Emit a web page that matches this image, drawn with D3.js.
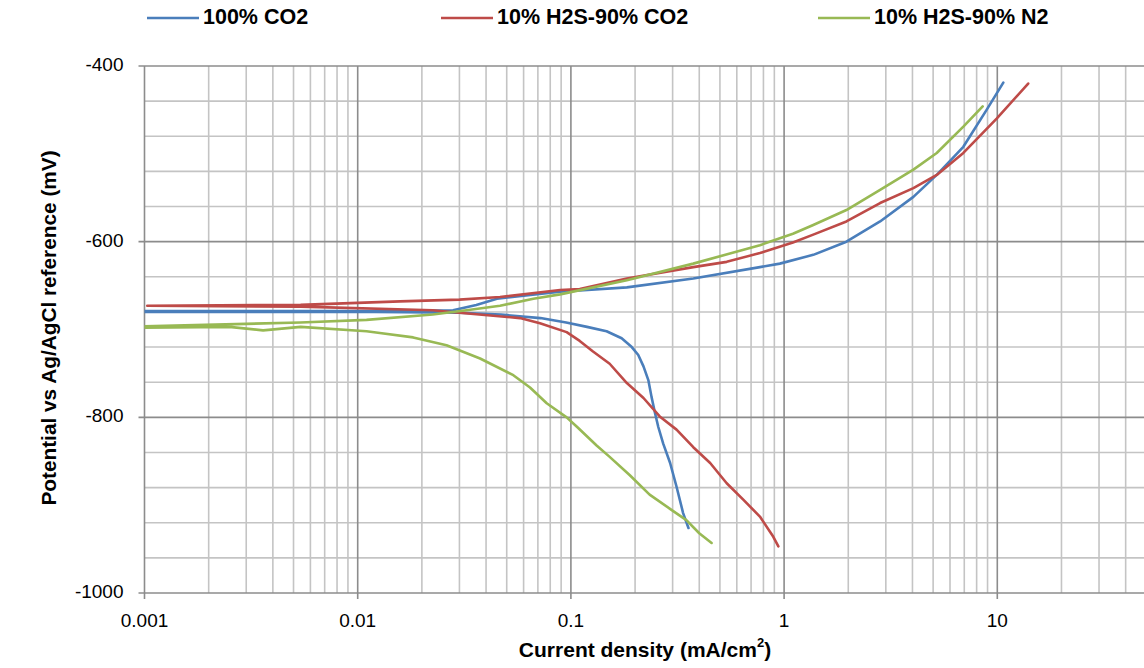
<!DOCTYPE html>
<html>
<head>
<meta charset="utf-8">
<script src="https://d3js.org/d3.v7.min.js"></script>
<style>
  body { margin: 0; background: #fff; }
  text { font-family: "Liberation Sans", Arial, sans-serif; }
</style>
</head>
<body>
<div id="canvas"></div>
<script>
"use strict"

/* Data: current density (mA/cm2) and potential (mV),
   in sweep order, cathodic end -> Ecorr -> anodic end */
let co2Current = [0.356, 0.336, 0.313, 0.292, 0.271, 0.257, 0.248, 0.239, 0.231, 0.219,
                  0.207, 0.193, 0.173, 0.147, 0.119, 0.095, 0.072, 0.047, 0.030, 0.012,
                  0.005, 0.0008,
                  0.0008, 0.005, 0.015, 0.028, 0.036, 0.045, 0.06, 0.089, 0.183, 0.375,
                  0.77, 0.955, 1.37, 1.96, 2.82, 4.04, 5.2, 6.93, 8.91, 10.67];
let co2Potential = [-926, -909, -879, -852, -830, -811, -795, -777, -758, -742,
                    -729, -720, -710, -702, -697, -692, -687, -683, -681, -680,
                    -680, -680,
                    -679, -679, -679, -678, -672, -665, -661.5, -657, -652, -642,
                    -629, -625, -615, -600, -577, -549, -524, -492, -450, -419];

let h2sCo2Current = [0.94, 0.89, 0.77, 0.645, 0.538, 0.45, 0.375, 0.313, 0.261, 0.219,
                     0.183, 0.152, 0.127, 0.11, 0.0955, 0.0716, 0.0577, 0.030, 0.0225,
                     0.0054, 0.00103,
                     0.00103, 0.0054, 0.0158, 0.030, 0.0465, 0.089, 0.11, 0.183, 0.375, 0.538,
                     0.77, 1.10, 1.37, 1.96, 2.82, 4.04, 5.2, 6.93, 9.93, 13.96];
let h2sCo2Potential = [-947, -936, -913, -894, -875, -852, -834, -814, -799, -778,
                       -761, -739, -725, -713, -703, -693, -687, -681, -678,
                       -674, -673,
                       -673, -672, -668, -666, -663, -655, -654, -642, -629, -623,
                       -613, -601, -592, -577, -556, -539, -524, -499, -460, -420];

let h2sN2Current = [0.457, 0.40, 0.348, 0.295, 0.234, 0.189, 0.152, 0.132, 0.107, 0.0955,
                    0.077, 0.0643, 0.0537, 0.0375, 0.0261, 0.0182, 0.0127, 0.011, 0.0054, 0.0036,
                    0.0025, 0.0008,
                    0.0008, 0.0054, 0.011, 0.0225, 0.0324, 0.0465, 0.0667, 0.089, 0.183, 0.375,
                    0.77, 1.10, 1.37, 1.96, 2.82, 4.04, 5.2, 6.93, 8.54];
let h2sN2Potential = [-943, -932, -917, -905, -888, -866, -845, -832, -811, -800,
                      -784, -766, -752, -733, -718, -709, -704, -702, -697, -701,
                      -697, -698,
                      -697, -692, -689, -683, -678, -673, -665, -660, -644, -625,
                      -604, -591, -581, -564, -541, -518, -499, -469, -446];

let seriesNames = ["100% CO2", "10% H2S-90% CO2", "10% H2S-90% N2"];
let seriesColors = ["#4a7ebb", "#be4b48", "#98b954"];

let xTicks = [0.001, 0.01, 0.1, 1, 10, 100];
let yTicks = [-400, -600, -800, -1000];

/* Drawing configuration */
let svgWidth = 1144;
let svgHeight = 668;
let plotLeft = 144.5;
let plotTop = 66;
let plotBottom = 593;
let decade = 213.2;

let svg = d3.select("#canvas")
    .append("svg")
    .attr("width", svgWidth)
    .attr("height", svgHeight);

let xScale = d3.scaleLog()
    .domain([0.001, 100])
    .range([plotLeft, plotLeft + decade * 5]);

let yScale = d3.scaleLinear()
    .domain([-1000, -400])
    .range([plotBottom, plotTop]);

/* Gridlines: minor every 40 mV and at 2..9 of each decade */
let minorY = d3.range(-1000, -399, 40).filter(v => yTicks.indexOf(v) < 0);
let minorX = [];
for (let d = 0.001; d < 100; d *= 10) {
  for (let k = 2; k <= 9; k++) minorX.push(d * k);
}

svg.selectAll(".minorY")
    .data(minorY)
    .join("line")
    .attr("x1", plotLeft)
    .attr("x2", svgWidth)
    .attr("y1", d => yScale(d))
    .attr("y2", d => yScale(d))
    .attr("stroke", "#c4c4c4")
    .attr("stroke-width", 1.6);

svg.selectAll(".minorX")
    .data(minorX)
    .join("line")
    .attr("x1", d => xScale(d))
    .attr("x2", d => xScale(d))
    .attr("y1", plotTop)
    .attr("y2", plotBottom)
    .attr("stroke", "#c4c4c4")
    .attr("stroke-width", 1.6);

/* Major gridlines with small outside ticks */
svg.selectAll(".majorY")
    .data(yTicks)
    .join("line")
    .attr("x1", plotLeft - 6)
    .attr("x2", svgWidth)
    .attr("y1", d => yScale(d))
    .attr("y2", d => yScale(d))
    .attr("stroke", "#8c8c8c")
    .attr("stroke-width", 1.6);

svg.selectAll(".majorX")
    .data(xTicks)
    .join("line")
    .attr("x1", d => xScale(d))
    .attr("x2", d => xScale(d))
    .attr("y1", plotTop)
    .attr("y2", plotBottom + 6)
    .attr("stroke", "#8c8c8c")
    .attr("stroke-width", 1.6);

/* Series lines, clipped to the plot area */
svg.append("clipPath")
    .attr("id", "plotClip")
    .append("rect")
    .attr("x", plotLeft)
    .attr("y", plotTop - 5)
    .attr("width", svgWidth - plotLeft)
    .attr("height", plotBottom - plotTop + 10);

let seriesData = [
  d3.zip(co2Current, co2Potential),
  d3.zip(h2sCo2Current, h2sCo2Potential),
  d3.zip(h2sN2Current, h2sN2Potential)
];

let line = d3.line()
    .curve(d3.curveMonotoneY)
    .x(d => xScale(d[0]))
    .y(d => yScale(d[1]));

let lineFlat = d3.line()
    .x(d => xScale(d[0]))
    .y(d => yScale(d[1]));

svg.append("g")
    .attr("clip-path", "url(#plotClip)")
    .selectAll("path")
    .data(seriesData)
    .join("path")
    .attr("d", lineFlat)
    .attr("fill", "none")
    .attr("stroke", (d, i) => seriesColors[i])
    .attr("stroke-width", 2.6)
    .attr("stroke-linejoin", "round")
    .attr("stroke-linecap", "round");

/**** tick labels ****/
svg.selectAll(".yLabel")
    .data(yTicks)
    .join("text")
    .attr("x", plotLeft - 21)
    .attr("y", d => yScale(d))
    .attr("text-anchor", "end")
    .attr("dominant-baseline", "middle")
    .attr("font-size", 19)
    .text(d => d);

svg.selectAll(".xLabel")
    .data(xTicks.filter(d => d < 50))
    .join("text")
    .attr("x", d => xScale(d))
    .attr("y", 622)
    .attr("text-anchor", "middle")
    .attr("dominant-baseline", "middle")
    .attr("font-size", 19)
    .text(d => d);

/**** axis titles ****/
let xTitle = svg.append("text")
    .attr("x", 645)
    .attr("y", 651)
    .attr("text-anchor", "middle")
    .attr("dominant-baseline", "middle")
    .attr("font-size", 21)
    .attr("font-weight", "bold");
xTitle.append("tspan").text("Current density (mA/cm");
xTitle.append("tspan").text("2").attr("font-size", 13).attr("dy", -7);
xTitle.append("tspan").text(")").attr("dy", 7);

svg.append("text")
    .attr("transform", "translate(50," + 328 + ") rotate(-90)")
    .attr("text-anchor", "middle")
    .attr("dominant-baseline", "middle")
    .attr("font-size", 20.8)
    .attr("font-weight", "bold")
    .text("Potential vs Ag/AgCl reference (mV)");

/**** legend ****/
let legendX = [147, 441, 818];
let legend = svg.selectAll(".legend")
    .data(seriesNames)
    .join("g")
    .attr("transform", (d, i) => "translate(" + legendX[i] + ",18)");

legend.append("line")
    .attr("x1", 0)
    .attr("x2", 52)
    .attr("stroke", (d, i) => seriesColors[i])
    .attr("stroke-width", 2.6);

legend.append("text")
    .attr("x", 56)
    .attr("dominant-baseline", "middle")
    .attr("font-size", 21.5)
    .attr("font-weight", "bold")
    .text(d => d);
</script>
</body>
</html>
